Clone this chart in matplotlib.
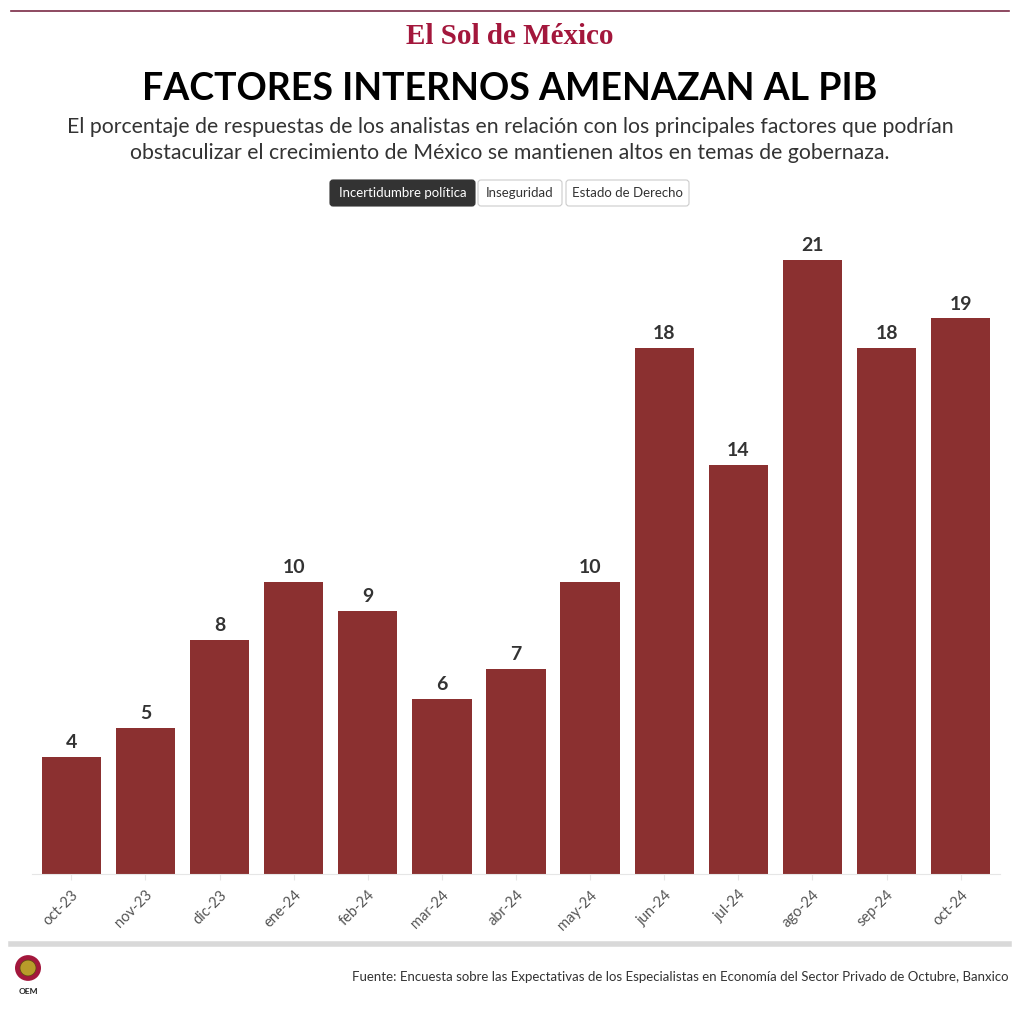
import numpy as np
import matplotlib.pyplot as plt
from matplotlib.patches import FancyBboxPatch, Circle

# data
meses = ['oct-23', 'nov-23', 'dic-23', 'ene-24', 'feb-24', 'mar-24', 'abr-24',
         'may-24', 'jun-24', 'jul-24', 'ago-24', 'sep-24', 'oct-24']
incertidumbre = [4, 5, 8, 10, 9, 6, 7, 10, 18, 14, 21, 18, 19]
botones = ['Incertidumbre política', 'Inseguridad', 'Estado de Derecho']

plt.rcParams['font.family'] = ['Lato', 'DejaVu Sans']

W, H = 1020, 1011
fig = plt.figure(figsize=(W / 100, H / 100), dpi=100)

def fx(px):
    return px / W
def fy(py):
    return 1 - py / H

# top rule + masthead
fig.add_artist(plt.Line2D([fx(11), fx(1009)], [fy(11), fy(11)], color='#7a2a45', lw=1.2))
fig.text(0.5, fy(36), 'El Sol de México', ha='center', va='center', fontsize=21,
         family='Liberation Serif', weight='bold', color='#a3173c')

# titles
fig.text(0.5, fy(89), 'FACTORES INTERNOS AMENAZAN AL PIB', ha='center', va='center',
         fontsize=27, weight='bold', color='black')
fig.text(0.5, fy(140), 'El porcentaje de respuestas de los analistas en relación con los principales factores que podrían\n'
         'obstaculizar el crecimiento de México se mantienen altos en temas de gobernaza.',
         ha='center', va='center', fontsize=15.3, color='#333333', linespacing=1.42)

# buttons
btn_x = [(330, 475), (478, 562), (566, 689)]
for (x0, x1), lab, i in zip(btn_x, botones, range(3)):
    activo = i == 0
    box = FancyBboxPatch((fx(x0), fy(206)), fx(x1 - x0), (26 / H),
                         boxstyle='round,pad=0,rounding_size=0.003',
                         transform=fig.transFigure, facecolor='#333333' if activo else 'white',
                         edgecolor='#333333' if activo else '#cccccc', lw=0.8)
    fig.add_artist(box)
    fig.text(fx((x0 + x1) / 2), fy(193), lab, ha='center', va='center', fontsize=9.5,
             color='white' if activo else '#333333')

# chart
ax = fig.add_axes([fx(32), fy(874), fx(1000) - fx(32), (874 - 201.5) / H])
x = np.arange(len(meses))
ax.bar(x, incertidumbre, width=0.8, color='#8b3030')
for xi, v in zip(x, incertidumbre):
    ax.text(xi, v + 0.2, str(v), ha='center', va='bottom', fontsize=14,
            weight='bold', color='#333333')
ax.set_xlim(-0.53, 12.53)
ax.set_ylim(0, 23)
ax.set_yticks([])
ax.set_xticks(x)
ax.set_xticklabels(meses, rotation=45, ha='right', rotation_mode='anchor',
                   fontsize=10.5, color='#555555')
ax.tick_params(axis='x', length=4, color='#e6e6e6', pad=6)
for s in ['top', 'right', 'left']:
    ax.spines[s].set_visible(False)
ax.spines['bottom'].set_color('#e6e6e6')

# footer
fig.add_artist(plt.Line2D([fx(11), fx(1009)], [fy(944), fy(944)], color='#d9d9d9', lw=4))
fig.text(fx(1009), fy(977), 'Fuente: Encuesta sobre las Expectativas de los Especialistas en Economía del Sector Privado de Octubre, Banxico',
         ha='right', va='center', fontsize=9.5, color='#333333')
fig.add_artist(Circle((fx(28), fy(968)), 13 / W, transform=fig.transFigure,
                      facecolor='#a3173c', edgecolor='none'))
fig.add_artist(Circle((fx(28), fy(968)), 8 / W, transform=fig.transFigure,
                      facecolor='#b89b2a', edgecolor='#5a4a10', lw=0.5))
fig.text(fx(28), fy(992), 'OEM', ha='center', va='center', fontsize=6, weight='bold', color='#222222')

fig.savefig('out.png', dpi=100, facecolor='white')
